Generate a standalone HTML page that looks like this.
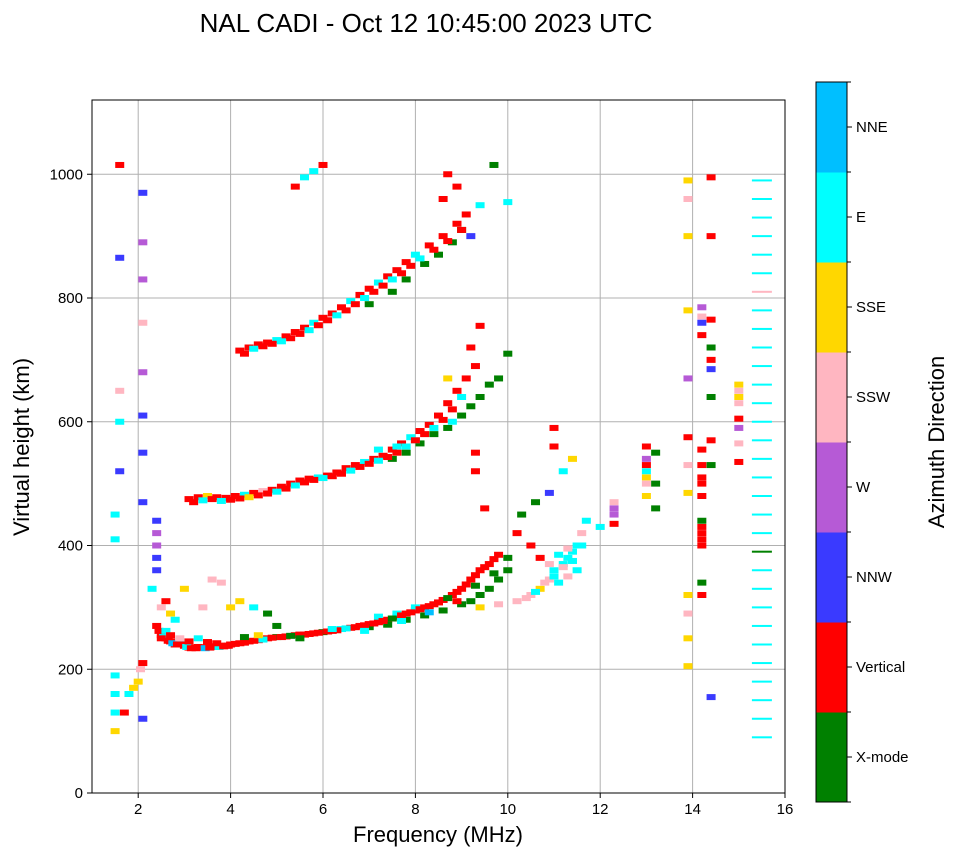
<!DOCTYPE html>
<html><head><meta charset="utf-8"><style>
body{margin:0;background:#fff;font-family:"Liberation Sans",sans-serif}
svg{display:block}
</style></head><body>
<svg id="chart" width="958" height="857" font-family="Liberation Sans, sans-serif">
<text x="426" y="32" text-anchor="middle" font-size="26">NAL CADI - Oct 12 10:45:00 2023 UTC</text>
<g id="grid"></g>
<g id="marks"></g>
<rect x="92" y="100" width="693" height="693" fill="none" stroke="#000" stroke-width="1"/>
<g id="axes"></g>
<text x="438" y="842" text-anchor="middle" font-size="22">Frequency (MHz)</text>
<text transform="translate(29,447) rotate(-90)" text-anchor="middle" font-size="22">Virtual height (km)</text>
<g id="cbar"></g>
<text transform="translate(944,442) rotate(-90)" text-anchor="middle" font-size="22">Azimuth Direction</text>
</svg>
<script>
const categories=["X-mode","Vertical","NNW","W","SSW","SSE","E","NNE"];
const catColors=["#008000","#ff0000","#3a3aff","#b65ad6","#ffb6c1","#ffd700","#00ffff","#00bfff"];
const xTicks=[2,4,6,8,10,12,14,16];
const yTicks=[0,200,400,600,800,1000];
const freq=[2.4,2.5,2.6,2.7,2.8,2.9,3.0,3.1,3.2,3.3,3.4,3.5,3.6,3.7,3.8,3.9,4.0,4.2,4.4,4.6,4.8,5.0,5.2,5.4,5.6,5.8,6.0,6.2,6.4,6.6,6.8,7.0,7.2,7.4,7.6,7.8,8.0,8.2,8.4,8.6,8.8,9.0,9.2,9.4,9.6,9.8,
7.0,7.4,7.8,8.2,8.6,9.0,9.2,9.4,9.6,9.8,10.0,10.0,7.2,7.6,8.0,
9.4,9.8,10.2,10.5,10.7,10.9,11.0,11.2,11.3,11.4,11.5,11.6,11.7,11.5,11.3,11.1,
10.2,10.5,10.7,10.3,10.6,10.9,11.2,11.4,11.0,11.0,
2.5,2.7,3.0,3.4,3.6,3.8,4.0,4.2,4.5,4.8,5.0,2.3,2.6,2.8,
1.5,1.5,1.5,1.5,1.8,1.9,2.0,2.05,2.1,1.7,2.1,1.5,1.5,
2.4,2.4,2.4,2.4,2.4,2.1,2.1,2.1,2.1,2.1,2.1,2.1,2.1,1.6,1.6,1.6,1.6,1.6,
3.1,3.3,3.5,3.7,3.9,4.1,4.3,4.5,4.7,4.9,5.1,5.3,5.5,5.7,5.9,6.1,6.3,6.5,6.7,6.9,7.1,7.3,7.5,7.7,7.9,8.1,8.3,8.5,8.7,8.9,9.1,9.3,8.7,
7.5,7.8,8.1,8.4,8.7,9.0,9.2,9.4,9.6,9.8,10.0,7.2,7.6,8.0,8.8,9.2,9.4,9.3,9.3,9.5,
4.2,4.4,4.6,4.8,5.0,5.2,5.4,5.6,5.8,6.0,6.2,6.4,6.6,6.8,7.0,7.2,7.4,7.6,7.8,8.0,8.3,8.6,8.9,9.1,9.4,
7.0,7.5,7.8,8.2,8.5,8.8,9.0,5.4,5.6,5.8,6.0,8.6,8.7,8.9,9.2,10.0,9.7,
12.0,12.3,12.3,12.3,13.0,13.0,13.0,13.0,13.0,13.2,13.2,13.2,
13.9,13.9,13.9,13.9,13.9,13.9,13.9,13.9,13.9,13.9,13.9,13.9,
14.2,14.2,14.2,14.2,14.2,14.2,14.2,14.2,14.2,14.2,14.2,14.2,
14.4,14.4,14.4,14.4,14.4,14.4,14.4,14.4,14.4,14.4,
15.0,15.0,15.0,15.0,15.0,15.0,15.0,15.0,
2.45,2.55,2.65,2.75,2.85,2.95,3.05,3.15,3.25,3.35,3.45,3.55,3.65,3.75,3.85,3.95,4.1,4.3,4.5,4.7,4.9,5.1,5.3,5.5,5.7,5.9,6.1,6.3,6.5,6.7,6.9,7.1,7.3,7.5,7.7,7.9,8.1,8.3,8.5,8.7,8.9,9.1,9.3,9.5,9.7,
2.5,2.6,2.7,2.9,3.1,3.3,3.5,3.7,4.3,4.6,5.5,6.2,6.9,7.7,8.3,8.9,9.3,9.7,
3.2,3.4,3.6,3.8,4.0,4.2,4.4,4.6,4.8,5.0,5.2,5.4,5.6,5.8,6.0,6.2,6.4,6.6,6.8,7.0,7.2,7.4,7.6,7.8,8.0,8.2,8.4,8.6,8.8,9.0,
4.3,4.5,4.7,4.9,5.1,5.3,5.5,5.7,5.9,6.1,6.3,6.5,6.7,6.9,7.1,7.3,7.5,7.7,7.9,8.1,8.4,8.7,9.0,
10.4,10.6,10.8,11.0,11.2,11.4,11.6,11.3,11.1,10.9,12.3,13.0,13.0,14.2,14.2,14.2,14.2];
const height=[270,255,250,245,240,245,238,235,235,236,235,236,237,237,238,238,240,242,245,247,250,252,253,255,256,258,260,262,265,267,270,273,276,280,285,290,295,300,305,312,320,330,345,360,370,385,
268,272,280,287,295,305,310,320,330,345,360,380,285,290,300,
300,305,310,320,330,345,360,370,380,390,400,420,440,360,350,340,
420,400,380,450,470,485,520,540,560,590,
300,290,330,300,345,340,300,310,300,290,270,330,310,280,
100,130,160,190,160,170,180,200,210,130,120,410,450,
440,420,400,380,360,970,890,830,760,680,610,550,470,1015,865,650,600,520,
475,478,480,478,477,480,482,485,488,490,495,500,505,508,510,513,518,525,530,535,540,545,555,565,575,585,595,610,630,650,670,690,670,
540,550,565,580,590,610,625,640,660,670,710,555,560,570,600,720,755,550,520,460,
715,720,725,728,732,738,745,752,760,768,775,785,795,805,815,825,835,845,858,870,885,900,920,935,950,
790,810,830,855,870,890,910,980,995,1005,1015,960,1000,980,900,955,1015,
430,470,460,435,560,540,520,500,480,550,500,460,
990,960,900,780,670,575,530,485,320,290,250,205,
785,770,760,740,510,480,440,420,400,340,320,555,
995,900,765,720,700,685,640,570,530,155,
660,650,640,630,605,590,565,535,
262,252,246,242,240,240,236,234,234,235,234,235,236,236,237,238,241,243,246,248,251,252,254,256,257,259,261,263,266,268,271,274,278,282,287,292,297,302,308,315,325,337,352,365,378,
250,262,255,250,245,250,244,242,252,255,250,265,262,278,292,310,335,355,
470,473,475,472,474,476,478,481,484,487,492,497,502,506,509,512,516,521,527,532,537,543,550,560,570,580,590,603,620,640,
710,718,722,726,730,735,742,748,756,764,772,780,790,800,810,820,830,840,852,864,878,892,910,
315,325,340,350,365,375,400,395,385,370,450,530,510,530,500,430,410];
const mode=[1,1,1,1,1,6,1,1,1,1,1,1,1,1,1,1,1,1,1,1,1,0,1,1,1,1,0,1,6,1,1,1,1,1,1,1,1,1,1,1,1,1,1,1,1,1,
0,0,0,0,0,0,0,0,0,0,0,0,6,6,6,
5,4,4,4,5,4,6,6,6,6,6,4,6,6,4,6,
1,1,1,0,0,2,6,5,1,1,
4,5,5,4,4,4,5,5,6,0,0,6,1,6,
5,6,6,6,6,5,5,4,1,1,2,6,6,
2,3,3,2,2,2,3,3,4,3,2,2,2,1,2,4,6,2,
1,1,5,1,1,1,6,1,4,1,1,1,1,1,6,1,1,1,1,6,1,1,1,1,6,1,1,1,1,1,1,1,5,
0,0,0,0,0,0,0,0,0,0,0,6,6,6,6,1,1,1,1,1,
1,1,1,1,6,1,1,1,6,1,1,1,6,1,1,6,1,1,1,6,1,1,1,1,6,
0,0,0,0,0,0,0,1,6,6,1,1,1,1,2,6,0,
6,4,3,1,1,3,6,4,5,0,0,0,
5,4,5,5,3,1,4,5,5,4,5,5,
3,4,2,1,1,1,0,1,1,0,1,1,
1,1,1,0,1,2,0,1,0,2,
5,4,5,4,1,3,4,1,
1,6,1,7,1,1,6,1,1,1,7,1,1,6,1,1,1,1,1,6,1,1,0,1,1,1,1,1,6,1,1,1,1,0,1,1,1,1,1,0,1,1,1,1,1,
1,6,1,4,1,6,1,1,0,5,0,6,6,6,7,1,0,0,
1,6,1,6,1,1,5,1,1,6,1,6,1,1,6,1,1,6,1,1,6,1,1,6,1,1,6,1,1,6,
1,6,1,1,6,1,1,6,1,1,6,1,1,6,1,1,6,1,1,6,1,1,1,
4,6,4,6,4,6,6,4,6,4,3,1,5,1,1,1,1];
const colHeights=[90,120,150,180,210,240,270,300,330,360,390,420,450,480,510,540,570,600,630,660,690,720,750,780,810,840,870,900,930,960,990];
const colModes=[6,6,6,6,6,6,6,6,6,6,0,6,6,6,6,6,6,6,6,6,6,6,6,6,4,6,6,6,6,6,6];

const NS="http://www.w3.org/2000/svg";
const X0=92,X1=785,Y0=793,Y1=100,FMIN=1,FMAX=16,HMAX=1120;
const xs=f=>X0+(f-FMIN)/(FMAX-FMIN)*(X1-X0);
const ys=h=>Y0-h/HMAX*(Y0-Y1);
function mk(tag,attrs,parent){const e=document.createElementNS(NS,tag);for(const k in attrs)e.setAttribute(k,attrs[k]);parent.appendChild(e);return e;}
const grid=document.getElementById('grid'),axes=document.getElementById('axes'),marks=document.getElementById('marks'),cbar=document.getElementById('cbar');
xTicks.forEach(t=>{const x=xs(t);
 const g=mk('line',{x1:x,x2:x,y1:Y1,y2:Y0,stroke:'#b0b0b0','stroke-width':1},grid);
 
 
 mk('line',{x1:x,x2:x,y1:Y0,y2:Y0+5,stroke:'#000'},axes);
 const tx=mk('text',{x:x,y:Y0+21,'text-anchor':'middle','font-size':15},axes);tx.textContent=t;
 
 });
yTicks.forEach(t=>{const y=ys(t);
 const g=mk('line',{x1:X0,x2:X1,y1:y,y2:y,stroke:'#b0b0b0','stroke-width':1},grid);
 
 
 mk('line',{x1:X0-5,x2:X0,y1:y,y2:y,stroke:'#000'},axes);
 const tx=mk('text',{x:X0-9,y:y+5,'text-anchor':'end','font-size':15},axes);tx.textContent=t;
 
 });
for(let i=0;i<freq.length;i++){
 const r=mk('rect',{x:xs(freq[i])-4.5,y:ys(height[i])-3,width:9,height:6,fill:catColors[mode[i]]},marks);
 
 }
for(let i=0;i<colHeights.length;i++){
 const r=mk('rect',{x:xs(15.5)-10,y:ys(colHeights[i])-1,width:20,height:2,fill:catColors[colModes[i]]},marks);
 
 }
const CB0=82,CB1=802,CBX=816,CBW=31,seg=(CB1-CB0)/categories.length;
categories.forEach((c,i)=>{const y=CB1-(i+1)*seg;
 const r=mk('rect',{x:CBX,y:y,width:CBW,height:seg+0.5,fill:catColors[i]},cbar);
 
 
 const ty=y+seg/2;
 mk('line',{x1:CBX+CBW,x2:CBX+CBW+5,y1:ty,y2:ty,stroke:'#000'},cbar);
 const t=mk('text',{x:CBX+CBW+9,y:ty+5,'font-size':15},cbar);t.textContent=c;
 
 });
for(let i=0;i<=categories.length;i++){const y=CB1-i*seg;mk('line',{x1:CBX+CBW,x2:CBX+CBW+4,y1:y,y2:y,stroke:'#000'},cbar);}
mk('rect',{x:CBX,y:CB0,width:CBW,height:CB1-CB0,fill:'none',stroke:'#000'},cbar);
</script>
</body></html>
